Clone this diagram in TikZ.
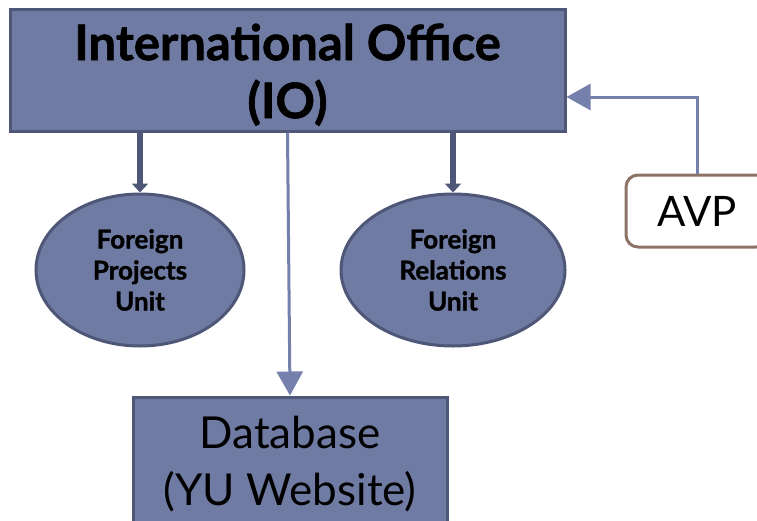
\documentclass[tikz,border=0pt]{standalone}
\usepackage{fontspec}
\setmainfont{Lato}[BoldFeatures={FakeBold=1.2}]
\usetikzlibrary{shapes.geometric,arrows.meta,positioning}

\definecolor{boxfill}{RGB}{111,123,163}
\definecolor{boxline}{RGB}{78,87,119}
\definecolor{linkline}{RGB}{118,128,172}
\definecolor{avpline}{RGB}{140,115,102}

\tikzset{
  orgbox/.style={draw=boxline, fill=boxfill, line width=3pt, align=center, inner sep=0pt},
  unitell/.style={ellipse, draw=boxline, fill=boxfill, line width=3pt, align=center,
    inner sep=0pt, font=\bfseries\fontsize{26}{31}\selectfont},
  thickarrow/.style={draw=boxline, line width=6pt, -{Triangle[width=16pt,length=9pt]}},
  thinarrow/.style={draw=linkline, line width=3pt, -{Triangle[width=26pt,length=24pt]}},
}

\begin{document}
\begin{tikzpicture}[x=1pt,y=-1pt]
   \useasboundingbox (0,0) rectangle (757,520);
   \clip (0,0) rectangle (757,520);

   % main office
   \node(io)[orgbox, minimum width=555pt, minimum height=122pt,
     font=\bfseries\fontsize{49}{58}\selectfont] at (287.5,70) {\rule{0pt}{46pt}International Office\\(IO)};

   % units
   \node(fpu)[unitell, minimum width=208pt, minimum height=152pt] at (140,270) {Foreign\\Projects\\Unit};
   \node(fru)[unitell, minimum width=224pt, minimum height=152pt] at (453,270) {Foreign\\Relations\\Unit};

   % database
   \node(db)[orgbox, minimum width=314pt, minimum height=134pt,
     font=\fontsize{44}{57}\selectfont] at (290,464) {Database\\(YU Website)};

   % AVP
   \node(avp)[draw=avpline, fill=white, line width=3pt, rounded corners=12pt,
     minimum width=142pt, minimum height=72pt, font=\fontsize{42}{50}\selectfont] at (697,211) {AVP};

   \draw[thickarrow] (fpu.north |- io.south) -- (fpu.north);
   \draw[thickarrow] (fru.north |- io.south) -- (fru.north);
   \draw[thinarrow] (io.south) -- (db.north);
   \draw[thinarrow] (avp.north) |- ([yshift=-27pt]io.east);
\end{tikzpicture}
\end{document}
